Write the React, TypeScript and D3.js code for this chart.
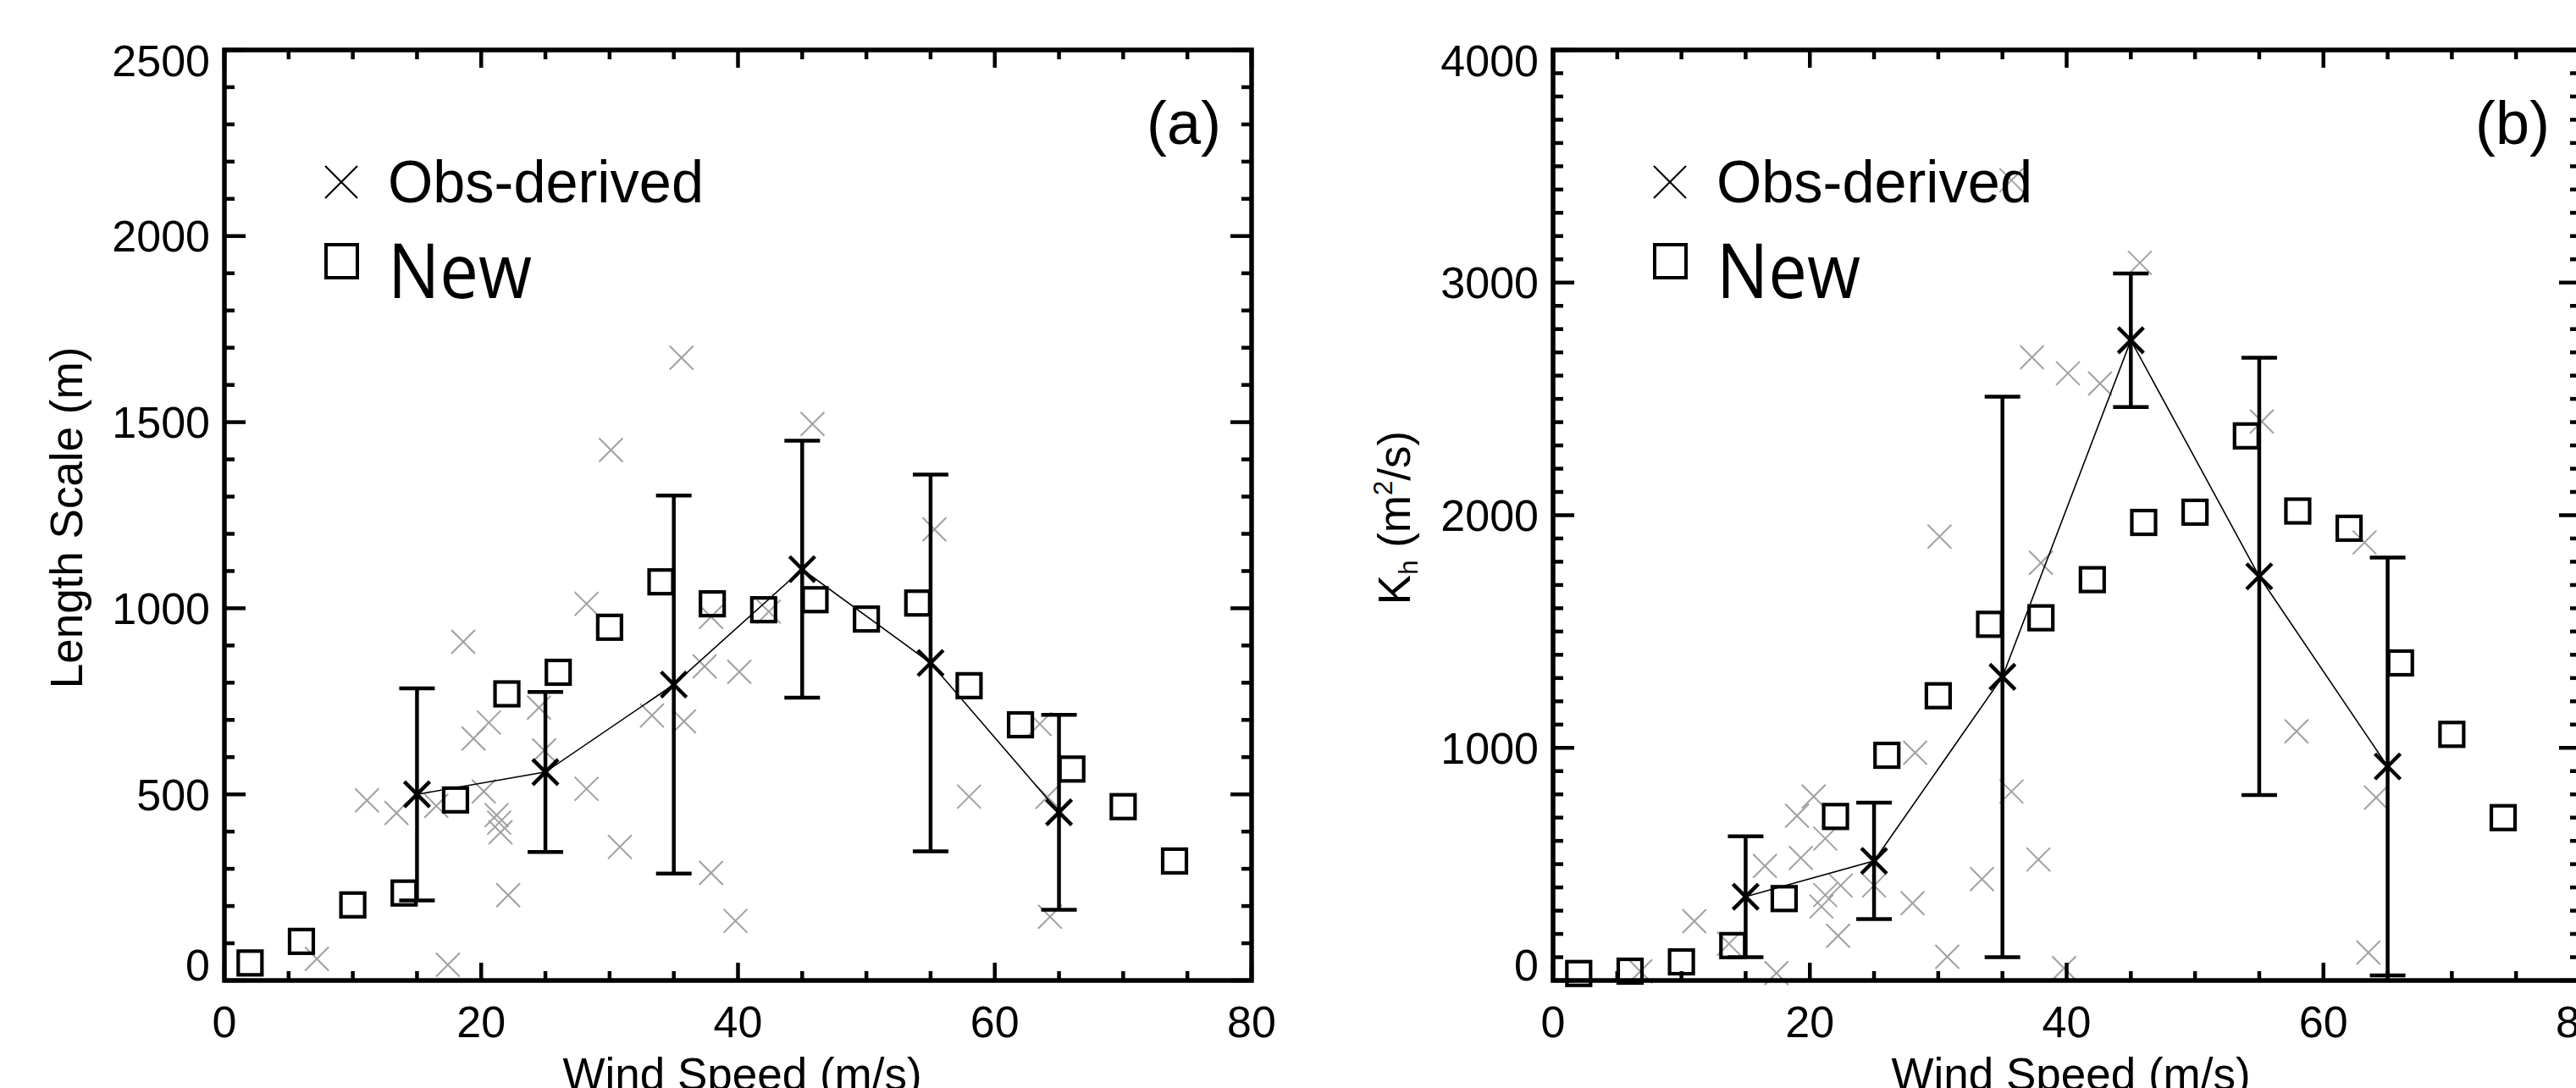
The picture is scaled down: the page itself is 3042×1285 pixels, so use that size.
import React, { useEffect } from 'react';
import * as d3 from 'd3';

const W = 3042;
const H = 1285;

// ---------- shared ----------
const binSpeeds = [15, 25, 35, 45, 55, 65];
const modelSpeeds = [2, 6, 10, 14, 18, 22, 26, 30, 34, 38, 42, 46, 50, 54, 58, 62, 66, 70, 74];
const xTicksMajor = [0, 20, 40, 60, 80];

// ---------- panel (a): length scale ----------
const lengthMean = [500, 560, 795, 1105, 853, 452];
const lengthErr = [285, 215, 508, 345, 506, 262];
const lengthNew = [47, 105, 203, 235, 485, 770, 828, 949, 1071, 1012, 996, 1023, 971, 1014, 792, 687, 568, 467, 321];
const lengthObsSpeed = [7.2, 17.4, 11.1, 13.4, 16.5, 18.6, 19.4, 20.6, 20.2, 21.2, 21.4, 21.5, 22.1, 24.5, 24.9, 28.2, 28.2, 30.1, 30.8, 33.3, 35.6, 35.8, 37.4, 37.9, 37.9, 40.1, 39.8, 42.4, 45.8, 55.3, 58.0, 63.5, 64.1, 64.3];
const lengthObs = [58, 42, 484, 450, 469, 910, 650, 693, 508, 444, 424, 398, 229, 733, 618, 1012, 515, 1425, 359, 712, 1673, 696, 844, 977, 289, 829, 160, 991, 1495, 1212, 494, 689, 493, 171];
const lengthTicks = [0, 500, 1000, 1500, 2000, 2500];

// ---------- panel (b): Kh ----------
const khMean = [360, 514, 1305, 2752, 1737, 920];
const khErr = [260, 250, 1205, 287, 940, 898];
const khNew = [30, 40, 80, 150, 352, 705, 968, 1224, 1531, 1559, 1723, 1969, 2013, 2341, 2018, 1944, 1365, 1058, 700];
const khObsSpeed = [6.8, 11.0, 13.7, 16.5, 17.4, 19.0, 20.3, 21.2, 19.3, 21.2, 22.4, 20.9, 22.2, 25.0, 28.0, 28.2, 30.1, 30.7, 33.4, 35.7, 35.7, 37.8, 38.0, 37.3, 39.8, 40.1, 42.6, 45.7, 55.2, 57.9, 63.2, 63.5, 64.1];
const khObs = [39, 255, 158, 492, 32, 708, 791, 610, 527, 367, 408, 318, 192, 408, 332, 979, 1908, 102, 436, 812, 3440, 520, 1795, 2679, 53, 2610, 2566, 3085, 2403, 1071, 1883, 120, 786];
const khTicks = [0, 1000, 2000, 3000, 4000];

const FONT = '"Liberation Sans", Arial, Helvetica, sans-serif';
const FS = 52;
const FT = 53;

type PanelProps = {
  left: number;
  yMax: number;
  yTicks: number[];
  yMinor: number;
  obsX: number[];
  obsY: number[];
  newY: number[];
  mean: number[];
  err: number[];
  tag: string;
  yLabel: React.ReactNode;
};

const TOP = 59;
const BOTTOM = 1158;
const PW = 1213;

function Cross({ cx, cy, r, stroke, sw }: { cx: number; cy: number; r: number; stroke: string; sw: number }) {
  return (
    <g stroke={stroke} strokeWidth={sw} fill="none">
      <line x1={cx - r} y1={cy - r} x2={cx + r} y2={cy + r} />
      <line x1={cx - r} y1={cy + r} x2={cx + r} y2={cy - r} />
    </g>
  );
}

function Panel(p: PanelProps) {
  const x = d3.scaleLinear().domain([0, 80]).range([p.left, p.left + PW]);
  const y = d3.scaleLinear().domain([0, p.yMax]).range([BOTTOM, TOP]);
  const right = p.left + PW;

  const xMinor = d3.range(0, 80.001, 5);
  const yMinorVals = d3.range(0, p.yMax + 0.001, p.yMinor);
  const isXMajor = (v: number) => Math.abs(v % 20) < 1e-6;
  const isYMajor = (v: number) => p.yTicks.some((t) => Math.abs(t - v) < 1e-6);

  const line = d3
    .line<number>()
    .x((_, i) => x(binSpeeds[i]))
    .y((d) => y(d));

  return (
    <g>
      {p.obsX.map((v, i) => (
        <Cross key={'o' + i} cx={x(v)} cy={y(p.obsY[i])} r={14} stroke="#a0a0a0" sw={2} />
      ))}
      {modelSpeeds.map((v, i) => (
        <rect
          key={'s' + i}
          x={x(v) - 14}
          y={y(p.newY[i]) - 14}
          width={28}
          height={28}
          fill="none"
          stroke="#000"
          strokeWidth={4.2}
        />
      ))}
      <path d={line(p.mean) || ''} fill="none" stroke="#000" strokeWidth={1.6} />
      {binSpeeds.map((v, i) => {
        const cx = x(v);
        const yt = y(p.mean[i] + p.err[i]);
        const yb = y(p.mean[i] - p.err[i]);
        return (
          <g key={'e' + i} stroke="#000" strokeWidth={4.5}>
            <line x1={cx} x2={cx} y1={yt} y2={yb} />
            <line x1={cx - 21} x2={cx + 21} y1={yt} y2={yt} />
            <line x1={cx - 21} x2={cx + 21} y1={yb} y2={yb} />
          </g>
        );
      })}
      {binSpeeds.map((v, i) => (
        <Cross key={'m' + i} cx={x(v)} cy={y(p.mean[i])} r={15} stroke="#000" sw={4.5} />
      ))}

      <g stroke="#000" strokeWidth={4.5}>
        {xMinor.map((v) => {
          const len = isXMajor(v) ? 21 : 11;
          return (
            <g key={'xt' + v}>
              <line x1={x(v)} x2={x(v)} y1={BOTTOM} y2={BOTTOM - len} />
              <line x1={x(v)} x2={x(v)} y1={TOP} y2={TOP + len} />
            </g>
          );
        })}
        {yMinorVals.map((v) => {
          const len = isYMajor(v) ? 25 : 12;
          return (
            <g key={'yt' + v}>
              <line x1={p.left} x2={p.left + len} y1={y(v)} y2={y(v)} />
              <line x1={right} x2={right - len} y1={y(v)} y2={y(v)} />
            </g>
          );
        })}
      </g>
      <rect x={p.left} y={TOP} width={PW} height={BOTTOM - TOP} fill="none" stroke="#000" strokeWidth={5.5} />

      <g fontFamily={FONT} fontSize={FS} fill="#000">
        {xTicksMajor.map((v) => (
          <text key={'xl' + v} x={x(v)} y={1225} textAnchor="middle">
            {v}
          </text>
        ))}
        {p.yTicks.map((v, i) => {
          let base = y(v) + 18.5;
          if (i === 0) base = BOTTOM;
          if (i === p.yTicks.length - 1) base = 90;
          return (
            <text key={'yl' + v} x={p.left - 17} y={base} textAnchor="end">
              {v}
            </text>
          );
        })}
        <text x={(p.left + right) / 2 + 5} y={1287} textAnchor="middle" fontSize={FT}>
          Wind Speed (m/s)
        </text>
      </g>
      {p.yLabel}

      <text x={right - 36} y={170} textAnchor="end" fontFamily={FONT} fontSize={72}>
        {p.tag}
      </text>

      <Cross cx={p.left + 138} cy={215} r={19} stroke="#000" sw={2.2} />
      <text x={p.left + 193} y={239} fontFamily={FONT} fontSize={70} textLength={373} lengthAdjust="spacingAndGlyphs">
        Obs-derived
      </text>
      <rect x={p.left + 120} y={289} width={37} height={39} fill="none" stroke="#000" strokeWidth={4} />
      <text
        x={p.left + 193}
        y={352}
        fontFamily='"Open Sans", "Noto Sans", sans-serif'
        fontSize={90}
        textLength={170}
        lengthAdjust="spacingAndGlyphs"
      >
        New
      </text>
    </g>
  );
}

export default function App() {
  useEffect(() => {
    document.body.style.margin = '0';
  }, []);

  const leftA = 265;
  const leftB = 1834;
  const midY = (TOP + BOTTOM) / 2 + 3;

  const yLabelA = (
    <text
      x={97}
      y={midY}
      transform={`rotate(-90, 97, ${midY})`}
      textAnchor="middle"
      fontFamily={FONT}
      fontSize={FT}
    >
      Length Scale (m)
    </text>
  );

  const yLabelB = (
    <text
      x={1665}
      y={midY}
      transform={`rotate(-90, 1665, ${midY})`}
      textAnchor="middle"
      fontFamily={FONT}
      fontSize={FT}
    >
      K
      <tspan fontSize={31} dy={9}>h</tspan>
      <tspan dy={-9}> (m</tspan>
      <tspan fontSize={31} dy={-21}>2</tspan>
      <tspan dy={21}>/s)</tspan>
    </text>
  );

  return (
    <svg
      width={W}
      height={H}
      viewBox={`0 0 ${W} ${H}`}
      style={{ position: 'absolute', left: 0, top: 0, background: '#fff', display: 'block' }}
    >
      <rect x={0} y={0} width={W} height={H} fill="#fff" />
      <Panel
        left={leftA}
        yMax={2500}
        yTicks={lengthTicks}
        yMinor={100}
        obsX={lengthObsSpeed}
        obsY={lengthObs}
        newY={lengthNew}
        mean={lengthMean}
        err={lengthErr}
        tag="(a)"
        yLabel={yLabelA}
      />
      <Panel
        left={leftB}
        yMax={4000}
        yTicks={khTicks}
        yMinor={100}
        obsX={khObsSpeed}
        obsY={khObs}
        newY={khNew}
        mean={khMean}
        err={khErr}
        tag="(b)"
        yLabel={yLabelB}
      />
    </svg>
  );
}
